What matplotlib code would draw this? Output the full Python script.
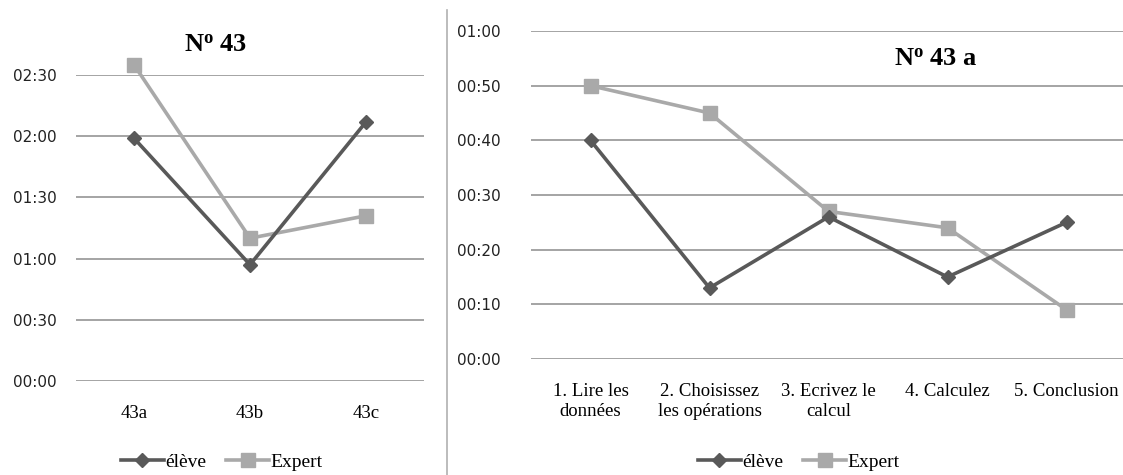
import numpy as np
import matplotlib.pyplot as plt
from matplotlib.ticker import FuncFormatter
from matplotlib.lines import Line2D

plt.rcParams['mathtext.fontset'] = 'custom'
plt.rcParams['mathtext.rm'] = 'Liberation Serif'
plt.rcParams['mathtext.bf'] = 'Liberation Serif:bold'

# data (seconds)
cats_left = ["43a", "43b", "43c"]
eleve_left = [119, 57, 127]
expert_left = [155, 70, 81]

cats_right = ["1. Lire les\ndonnées", "2. Choisissez\nles opérations", "3. Ecrivez le\ncalcul",
              "4. Calculez", "5. Conclusion"]
eleve_right = [40, 13, 26, 15, 25]
expert_right = [50, 45, 27, 24, 9]

c_eleve = "#595959"
c_expert = "#a9a9a9"
c_grid = "#8c8c8c"


def mmss(v, pos):
    v = int(round(v))
    return f"{v // 60:02d}:{v % 60:02d}"


def style(ax, cats, ymax, ystep, ypad, xpad):
    x = np.arange(len(cats))
    ax.set_xlim(-0.5, len(cats) - 0.5)
    ax.set_ylim(0, ymax)
    ax.set_yticks(np.arange(0, ymax + 1, ystep))
    ax.yaxis.set_major_formatter(FuncFormatter(mmss))
    ax.set_xticks(x)
    ax.set_xticklabels(cats, family="Liberation Serif", fontsize=13.5, linespacing=1.25)
    for lab in ax.get_yticklabels():
        lab.set_family("DejaVu Sans")
        lab.set_fontsize(11)
        lab.set_color("#222222")
    ax.tick_params(length=0)
    ax.tick_params(axis="y", pad=ypad)
    ax.tick_params(axis="x", pad=xpad)
    for s in ax.spines.values():
        s.set_visible(False)
    ax.grid(axis="y", color=c_grid, lw=1.1)
    ax.set_axisbelow(True)
    return x


def draw(ax, x, e, p):
    ax.plot(x, e, color=c_eleve, lw=2.6, marker="D", ms=7, clip_on=False, zorder=3)
    ax.plot(x, p, color=c_expert, lw=2.6, marker="s", ms=10, clip_on=False, zorder=2)


fig = plt.figure(figsize=(11.23, 4.75), dpi=100)

ax1 = fig.add_axes([76 / 1123, 1 - 381 / 475, 348 / 1123, 306 / 475])
x1 = style(ax1, cats_left, 150, 30, 14, 17)
draw(ax1, x1, eleve_left, expert_left)
fig.text(216 / 1123, 1 - 45 / 475, r"$\mathbf{N^{o}}$ 43", ha="center", va="center",
         family="Liberation Serif", fontweight="bold", fontsize=19)

ax2 = fig.add_axes([531 / 1123, 1 - 359 / 475, 595 / 1123, 328 / 475])
x2 = style(ax2, cats_right, 60, 10, 22, 17)
draw(ax2, x2, eleve_right, expert_right)
fig.text(936 / 1123, 1 - 59 / 475, r"$\mathbf{N^{o}}$ 43 a", ha="center", va="center",
         family="Liberation Serif", fontweight="bold", fontsize=19)

# separator
fig.add_artist(Line2D([447 / 1123, 447 / 1123], [0, 1 - 10 / 475], color="#b0b0b0", lw=1.2))

handles = [Line2D([], [], color=c_eleve, lw=2.6, marker="D", ms=7),
           Line2D([], [], color=c_expert, lw=2.6, marker="s", ms=10)]
for cx in (222 / 1123, 799 / 1123):
    fig.legend(handles, ["élève", "Expert"], loc="center", bbox_to_anchor=(cx, 1 - 462 / 475),
               ncol=2, frameon=False, prop={"family": "Liberation Serif", "size": 14},
               handlelength=2.2, handletextpad=0.1, columnspacing=1.0)

fig.savefig("out.png", dpi=100)
